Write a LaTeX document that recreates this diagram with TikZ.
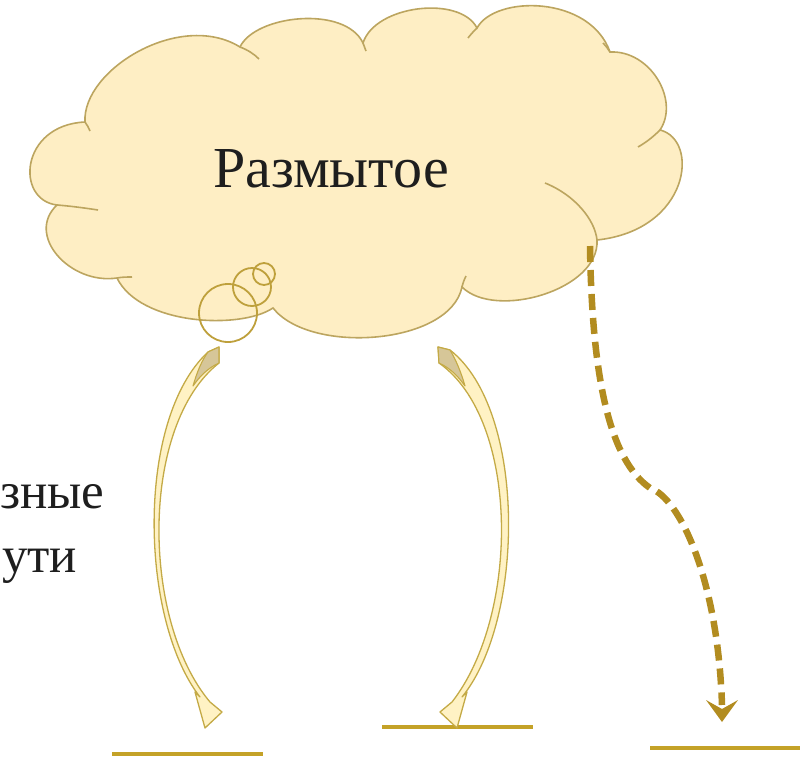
\documentclass[tikz,border=0pt]{standalone}
\usepackage{fontspec}
\setmainfont{Liberation Serif}
\definecolor{cloudfill}{RGB}{254,238,196}
\definecolor{cloudline}{RGB}{188,165,95}
\definecolor{bubbleline}{RGB}{190,160,60}
\definecolor{arrowline}{RGB}{196,170,70}
\definecolor{arrowfill}{RGB}{255,242,196}
\definecolor{arrowtop}{RGB}{214,198,152}
\definecolor{baseln}{RGB}{196,162,40}
\definecolor{dashcol}{RGB}{178,140,32}
\definecolor{txt}{RGB}{30,30,30}
\tikzset{
 cloudedge/.style={draw=cloudline, line width=1.6pt},
 bubble/.style={draw=bubbleline, line width=1.8pt},
 blockarrow/.style={draw=arrowline, fill=arrowfill, line width=1.3pt, line join=round},
 arrowback/.style={draw=arrowline, fill=arrowtop, line width=1.1pt, line join=round},
 groundline/.style={draw=baseln, line width=4.5pt},
 dashflow/.style={draw=dashcol, line width=6.5pt, dash pattern=on 16pt off 8pt},
 bigtext/.style={font=\fontsize{58}{68}\selectfont, text=txt, inner sep=0pt},
 sidetext/.style={font=\fontsize{51}{61}\selectfont, text=txt, inner sep=0pt},
}
\begin{document}
\begin{tikzpicture}[x=1pt,y=-1pt]
\useasboundingbox (0,0) rectangle (804,774);
\begin{scope}
\clip (0,0) rectangle (804,774);
% cloud
\def\cloudpath{(85,122) .. controls (82,70) and (180,10) .. (240,47)
 .. controls (255,15) and (345,5) .. (363,43)
 .. controls (375,5) and (460,-5) .. (477,28)
 .. controls (495,-5) and (590,-5) .. (610,52)
 .. controls (650,50) and (680,100) .. (660,130)
 .. controls (700,140) and (690,230) .. (597,240)
 .. controls (600,290) and (495,320) .. (462,287)
 .. controls (450,345) and (310,355) .. (273,308)
 .. controls (240,330) and (140,325) .. (117,278)
 .. controls (70,285) and (25,235) .. (57,205)
 .. controls (15,200) and (20,125) .. (85,122) -- cycle}
\fill[cloudfill] \cloudpath;
\draw[cloudedge] \cloudpath;
% inner hooks
\draw[cloudedge] (85,122) .. controls (87,125) and (89,128) .. (90,131);
\draw[cloudedge] (240,47) .. controls (248,50) and (254,54) .. (259,59);
\draw[cloudedge] (363,43) .. controls (364,46) and (365,48) .. (366,51);
\draw[cloudedge] (477,28) .. controls (474,31) and (471,34) .. (468,38);
\draw[cloudedge] (610,52) .. controls (608,49) and (606,46) .. (603,43);
\draw[cloudedge] (660,130) .. controls (652,138) and (645,143) .. (638,147);
\draw[cloudedge] (545,183) .. controls (575,195) and (595,220) .. (597,240);
\draw[cloudedge] (462,287) .. controls (463,283) and (464,280) .. (466,276);
\draw[cloudedge] (117,278) .. controls (122,277) and (127,277) .. (132,277);
\draw[cloudedge] (57,205) .. controls (70,206) and (85,208) .. (98,210);
% thought bubbles
\draw[bubble] (228,313) circle[radius=29];
\draw[bubble] (252,287) circle[radius=19];
\draw[bubble] (264,274) circle[radius=11];
% texts
\node[bigtext, anchor=base] (title) at (331,187) {Размытое};
\node[sidetext, anchor=base west] (lab1) at (0,508) {зные};
\node[sidetext, anchor=base west] (lab2) at (2,572) {ути};
% ground lines
\coordinate (g1a) at (112,754); \coordinate (g1b) at (263,754);
\coordinate (g2a) at (382,727); \coordinate (g2b) at (533,727);
\coordinate (g3a) at (650,748); \coordinate (g3b) at (800,748);
\draw[groundline] (g1a) -- (g1b);
\draw[groundline] (g2a) -- (g2b);
\draw[groundline] (g3a) -- (g3b);
% left curved block arrow
\coordinate (la) at (208,352); \coordinate (lb) at (219,363);
\path[blockarrow] (la) .. controls (135,420) and (140,620) .. (200,697)
 -- (195,692) -- (205,728) -- (222,712) -- (210,702)
 .. controls (141,620) and (140,425) .. (lb) -- (219,347) -- cycle;
\path[arrowback] (la) -- (219,347) -- (lb) .. controls (208,368) and (200,376) .. (193,386)
 .. controls (197,372) and (202,360) .. (la) -- cycle;
% right curved block arrow
\coordinate (ra) at (450,350); \coordinate (rb) at (439,363);
\path[blockarrow] (ra) .. controls (527,410) and (525,620) .. (462,697)
 -- (467,692) -- (457,728) -- (440,712) -- (452,702)
 .. controls (520,615) and (520,420) .. (rb) -- (438,347) -- cycle;
\path[arrowback] (ra) -- (438,347) -- (rb) .. controls (450,368) and (458,376) .. (465,386)
 .. controls (461,372) and (456,360) .. (ra) -- cycle;
% dashed arrow
\coordinate (ds) at (590,246); \coordinate (dm) at (650,488); \coordinate (de) at (722,705);
\draw[dashflow] (ds) .. controls (592,380) and (610,460) .. (dm)
 .. controls (680,498) and (718,580) .. (de);
\fill[dashcol] (706,700) -- (722,709) -- (738,700) -- (722,722) -- cycle;
\end{scope}
\end{tikzpicture}
\end{document}
